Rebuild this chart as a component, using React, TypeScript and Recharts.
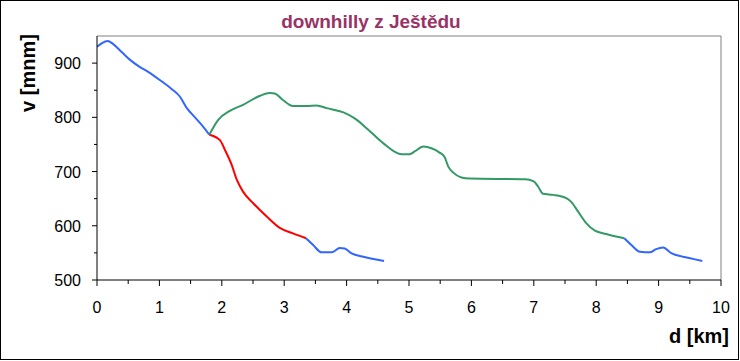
import { LineChart, Line, XAxis, YAxis, ReferenceLine } from "recharts";

// d = distance [km], v = elevation [m n. m.]
const blueStart = [
  { d: 0, v: 930 }, { d: 0.08, v: 937 }, { d: 0.17, v: 941 }, { d: 0.26, v: 935 },
  { d: 0.4, v: 920 }, { d: 0.53, v: 906 }, { d: 0.66, v: 895 }, { d: 0.82, v: 884 },
  { d: 1.04, v: 866 }, { d: 1.2, v: 852 }, { d: 1.33, v: 838 }, { d: 1.44, v: 817 },
  { d: 1.57, v: 800 }, { d: 1.7, v: 783 }, { d: 1.8, v: 768 },
];

const redDownhill = [
  { d: 1.8, v: 768 }, { d: 1.97, v: 758 }, { d: 2.05, v: 740 }, { d: 2.16, v: 712 },
  { d: 2.24, v: 685 }, { d: 2.34, v: 663 }, { d: 2.5, v: 642 }, { d: 2.72, v: 617 },
  { d: 2.93, v: 596 }, { d: 3.14, v: 586 }, { d: 3.35, v: 577 },
];

const blueEndA = [
  { d: 3.35, v: 577 }, { d: 3.46, v: 565 }, { d: 3.6, v: 551 }, { d: 3.76, v: 551 },
  { d: 3.89, v: 559 }, { d: 3.97, v: 558 }, { d: 4.08, v: 549 }, { d: 4.27, v: 543 },
  { d: 4.6, v: 535 },
];

const greenDownhill = [
  { d: 1.8, v: 768 }, { d: 1.94, v: 795 }, { d: 2.13, v: 812 }, { d: 2.34, v: 823 },
  { d: 2.56, v: 837 }, { d: 2.77, v: 845 }, { d: 2.85, v: 844 }, { d: 2.98, v: 832 },
  { d: 3.14, v: 821 }, { d: 3.36, v: 821 }, { d: 3.52, v: 822 }, { d: 3.68, v: 817 },
  { d: 3.95, v: 809 }, { d: 4.13, v: 798 }, { d: 4.32, v: 780 }, { d: 4.59, v: 752 },
  { d: 4.88, v: 732 }, { d: 5.01, v: 732 }, { d: 5.09, v: 737 }, { d: 5.23, v: 746 },
  { d: 5.36, v: 743 }, { d: 5.49, v: 735 }, { d: 5.57, v: 727 }, { d: 5.63, v: 709 },
  { d: 5.71, v: 698 }, { d: 5.84, v: 689 }, { d: 5.97, v: 687 }, { d: 6.86, v: 686 },
  { d: 7.0, v: 682 }, { d: 7.07, v: 672 }, { d: 7.15, v: 659 }, { d: 7.31, v: 657 },
  { d: 7.52, v: 651 }, { d: 7.6, v: 644 }, { d: 7.71, v: 626 }, { d: 7.84, v: 605 },
  { d: 7.98, v: 591 }, { d: 8.16, v: 585 }, { d: 8.45, v: 577 },
];

const blueEndB = [
  { d: 8.45, v: 577 }, { d: 8.56, v: 565 }, { d: 8.7, v: 552 }, { d: 8.86, v: 551 },
  { d: 8.96, v: 557 }, { d: 9.07, v: 560 }, { d: 9.21, v: 549 }, { d: 9.39, v: 543 },
  { d: 9.55, v: 539 }, { d: 9.7, v: 535 },
];

const xTicks = [0, 0.5, 1, 1.5, 2, 2.5, 3, 3.5, 4, 4.5, 5, 5.5, 6, 6.5, 7, 7.5, 8, 8.5, 9, 9.5, 10];
const yTicks = [500, 550, 600, 650, 700, 750, 800, 850, 900, 950];
const yLabeled = [500, 600, 700, 800, 900];

const font = "Arial, 'Liberation Sans', sans-serif";

const XTick = ({ x, y, payload }: any) => {
  const major = Number.isInteger(payload.value);
  return (
    <g>
      <line x1={x} x2={x} y1={y} y2={y + (major ? 6 : 4)} stroke="#000" />
      {major && (
        <text x={x} y={y + 33} textAnchor="middle" fontSize={16} fontFamily={font} fill="#000">
          {payload.value}
        </text>
      )}
    </g>
  );
};

const YTick = ({ x, y, payload }: any) => {
  const major = yLabeled.includes(payload.value);
  if (payload.value === 950) return null;
  return (
    <g>
      <line x1={x - (major ? 5 : 3)} x2={x} y1={y} y2={y} stroke="#000" />
      {major && (
        <text x={x - 16} y={y + 6} textAnchor="end" fontSize={16} fontFamily={font} fill="#000">
          {payload.value}
        </text>
      )}
    </g>
  );
};

export default function App() {
  return (
    <div
      style={{
        position: "absolute",
        left: 0,
        top: 0,
        width: 739,
        height: 360,
        border: "1px solid #000",
        boxSizing: "border-box",
        background: "#fff",
      }}
    >
      <div style={{ position: "absolute", left: -1, top: -1 }}>
        <LineChart width={740} height={361} margin={{ top: 36, right: 19, bottom: 51, left: 57 }}>
          <XAxis
            type="number"
            dataKey="d"
            domain={[0, 10]}
            ticks={xTicks}
            interval={0}
            tickSize={0}
            tickMargin={0}
            tickLine={false}
            tick={<XTick />}
            axisLine={{ stroke: "#000" }}
            height={30}
            allowDataOverflow
          />
          <YAxis
            type="number"
            dataKey="v"
            domain={[500, 950]}
            ticks={yTicks}
            interval={0}
            tickSize={0}
            tickMargin={0}
            tickLine={false}
            tick={<YTick />}
            axisLine={{ stroke: "#000" }}
            width={40}
            allowDataOverflow
          />
          <ReferenceLine y={950} stroke="#808080" />
          <ReferenceLine x={10} stroke="#808080" />
          <Line type="monotone" data={blueStart} dataKey="v" stroke="#3366ff" strokeWidth={2} dot={false} isAnimationActive={false} />
          <Line type="monotone" data={redDownhill} dataKey="v" stroke="#ff0000" strokeWidth={2} dot={false} isAnimationActive={false} />
          <Line type="monotone" data={blueEndA} dataKey="v" stroke="#3366ff" strokeWidth={2} dot={false} isAnimationActive={false} />
          <Line type="monotone" data={greenDownhill} dataKey="v" stroke="#339966" strokeWidth={2} dot={false} isAnimationActive={false} />
          <Line type="monotone" data={blueEndB} dataKey="v" stroke="#3366ff" strokeWidth={2} dot={false} isAnimationActive={false} />
          <text x={371} y={28} textAnchor="middle" fontSize={19} fontWeight="bold" fontFamily={font} fill="#993366">
            downhilly z Ještědu
          </text>
          <text
            x={35}
            y={73}
            transform="rotate(-90 35 73)"
            textAnchor="middle"
            fontSize={20}
            fontWeight="bold"
            fontFamily={font}
            fill="#000"
          >
            v [mnm]
          </text>
          <text x={729} y={343} textAnchor="end" fontSize={20} fontWeight="bold" fontFamily={font} fill="#000">
            d [km]
          </text>
        </LineChart>
      </div>
    </div>
  );
}
